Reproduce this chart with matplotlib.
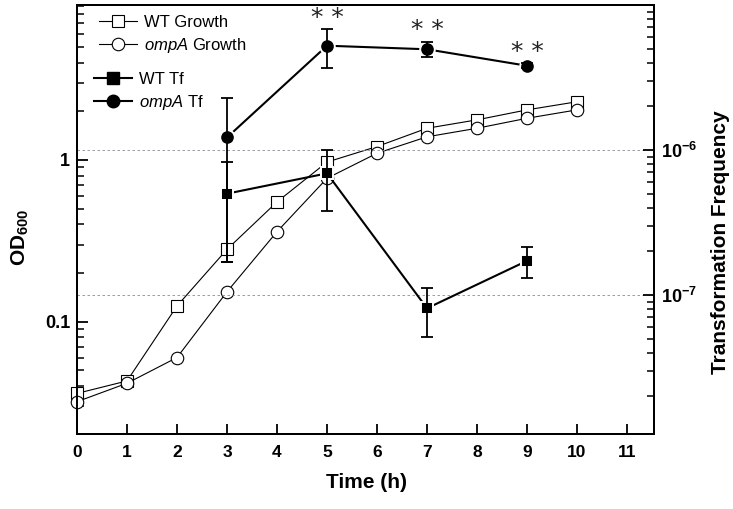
import matplotlib
matplotlib.use("Agg")
import matplotlib.pyplot as plt
from matplotlib.lines import Line2D
from matplotlib.ticker import LogLocator, FixedLocator, FixedFormatter, NullFormatter

plt.rcParams['font.family'] = ['Liberation Sans', 'DejaVu Sans']
plt.rcParams['mathtext.fontset'] = 'custom'
plt.rcParams['mathtext.rm'] = 'Liberation Sans'
plt.rcParams['mathtext.bf'] = 'Liberation Sans:bold'
plt.rcParams['mathtext.it'] = 'Liberation Sans:italic'

# ---- data ----
time_growth = [0, 1, 2, 3, 4, 5, 6, 7, 8, 9, 10]
wt_growth = [0.036, 0.043, 0.125, 0.28, 0.55, 0.97, 1.21, 1.57, 1.77, 2.04, 2.29]
ompa_growth = [0.032, 0.0416, 0.060, 0.153, 0.36, 0.77, 1.10, 1.39, 1.57, 1.81, 2.04]

time_wt_tf = [3, 5, 7, 9]
wt_tf = [5.0e-7, 6.9e-7, 8.1e-8, 1.72e-7]
wt_tf_err = [3.3e-7, 3.1e-7, 3.0e-8, 4.2e-8]

time_ompa_tf = [3, 5, 7, 9]
ompa_tf = [1.22e-6, 5.24e-6, 4.95e-6, 3.81e-6]
ompa_tf_err = [1.05e-6, 1.55e-6, 0.58e-6, 0.15e-6]

sig_times = [5, 7, 9]
sig_label = "* *"

x_ticks = list(range(0, 12))
od_ticks = [0.1, 1]
od_tick_labels = ["0.1", "1"]
tf_ticks = [1e-7, 1e-6]
tf_tick_labels = [r"$\mathbf{10^{-7}}$", r"$\mathbf{10^{-6}}$"]

# ---- figure ----
W, H = 733, 509
fig = plt.figure(figsize=(W / 100, H / 100), dpi=100)
ax = fig.add_axes([77 / W, 1 - 434 / H, (654 - 77) / W, (434 - 5) / H])
ax2 = ax.twinx()

ax.set_yscale('log')
ax2.set_yscale('log')
ax.set_xlim(0, 11.54)
ax.set_ylim(0.0202, 9.08)
ax2.set_ylim(1.1e-8, 1.0e-5)

# growth curves
ax.plot(time_growth, wt_growth, '-', color='black', lw=0.8, marker='s', ms=8,
        mfc='white', mec='black', mew=0.8, zorder=3, clip_on=False)
ax.plot(time_growth, ompa_growth, '-', color='black', lw=0.8, marker='o', ms=9,
        mfc='white', mec='black', mew=0.8, zorder=3, clip_on=False)

# transformation frequency
ax2.plot(time_wt_tf, wt_tf, '-', color='black', lw=1.5, marker='s', ms=9.3,
         mfc='black', mec='white', mew=1.4, zorder=3)
ax2.errorbar(time_wt_tf, wt_tf, yerr=wt_tf_err, fmt='none', ecolor='black',
             elinewidth=1.3, capsize=4.3, capthick=1.3, zorder=4)
ax2.plot(time_ompa_tf, ompa_tf, '-', color='black', lw=1.5, marker='o', ms=10.5,
         mfc='black', mec='white', mew=1.4, zorder=3)
ax2.errorbar(time_ompa_tf, ompa_tf, yerr=ompa_tf_err, fmt='none', ecolor='black',
             elinewidth=1.3, capsize=4.3, capthick=1.3, zorder=4)

# significance marks
for t in sig_times:
    i = time_ompa_tf.index(t)
    ax2.annotate(sig_label, xy=(t, ompa_tf[i] + ompa_tf_err[i]), xytext=(0, 8.5),
                 textcoords='offset points', ha='center', va='center',
                 fontsize=18, family='DejaVu Sans', fontweight='normal', color='#222222')

# grid from right axis
for v in tf_ticks:
    ax2.axhline(v, color='#8a8a9a', lw=0.6, ls=(0, (3, 3)), zorder=1)

# ticks
ax.xaxis.set_major_locator(FixedLocator(x_ticks))
ax.set_xticklabels([str(t) for t in x_ticks])
ax.yaxis.set_major_locator(FixedLocator(od_ticks))
ax.yaxis.set_major_formatter(FixedFormatter(od_tick_labels))
ax.yaxis.set_minor_locator(LogLocator(base=10, subs=[2, 3, 4, 5, 6, 7, 8, 9], numticks=20))
ax.yaxis.set_minor_formatter(NullFormatter())
ax2.yaxis.set_major_locator(FixedLocator(tf_ticks))
ax2.yaxis.set_major_formatter(FixedFormatter(tf_tick_labels))
ax2.yaxis.set_minor_locator(LogLocator(base=10, subs=[2, 3, 4, 5, 6, 7, 8, 9], numticks=20))
ax2.yaxis.set_minor_formatter(NullFormatter())

ax.tick_params(axis='x', which='major', direction='in', length=7, width=1.3,
               labelsize=12.5, pad=8, top=False)
ax.tick_params(axis='y', which='major', direction='in', length=8, width=1.3,
               labelsize=13, pad=5, right=False)
ax.tick_params(axis='y', which='minor', direction='in', length=5, width=1.1, right=False)
ax2.tick_params(axis='y', which='major', direction='in', length=8, width=1.3,
                labelsize=13, pad=5)
ax2.tick_params(axis='y', which='minor', direction='in', length=5, width=1.1)
for lbl in ax.get_xticklabels() + ax.get_yticklabels():
    lbl.set_fontweight('bold')

for a in (ax, ax2):
    for s in a.spines.values():
        s.set_linewidth(1.4)

# axis labels
fig.text(366 / W, 1 - 483 / H, 'Time (h)', ha='center', va='center',
         fontsize=15, fontweight='bold')
fig.text(20 / W, 1 - 237 / H, r'OD$_{\mathbf{600}}$', ha='center', va='center',
         rotation=90, fontsize=15, fontweight='bold')
fig.text(720 / W, 1 - 242 / H, 'Transformation Frequency', ha='center', va='center',
         rotation=90, fontsize=15, fontweight='bold')

# legends
h_growth = [
    Line2D([], [], color='black', lw=0.8, marker='s', ms=8, mfc='white', mec='black', mew=0.8),
    Line2D([], [], color='black', lw=0.8, marker='o', ms=9, mfc='white', mec='black', mew=0.8),
]
h_tf = [
    Line2D([], [], color='black', lw=1.5, marker='s', ms=8, mfc='black', mec='black'),
    Line2D([], [], color='black', lw=1.5, marker='o', ms=9, mfc='black', mec='black'),
]
leg1 = ax2.legend(h_growth, ['WT Growth', r'$\mathit{ompA}$ Growth'], loc='upper left',
                  bbox_to_anchor=(0.02, 1.0), frameon=False, fontsize=12,
                  handlelength=2.3, handletextpad=0.4, labelspacing=0.35, borderaxespad=0.2)
ax2.add_artist(leg1)
leg2 = ax2.legend(h_tf, ['WT Tf', r'$\mathit{ompA}$ Tf'], loc='upper left',
                  bbox_to_anchor=(0.012, 0.868), frameon=False, fontsize=12,
                  handlelength=2.3, handletextpad=0.4, labelspacing=0.4, borderaxespad=0.2)

fig.savefig('out.png', dpi=100)
